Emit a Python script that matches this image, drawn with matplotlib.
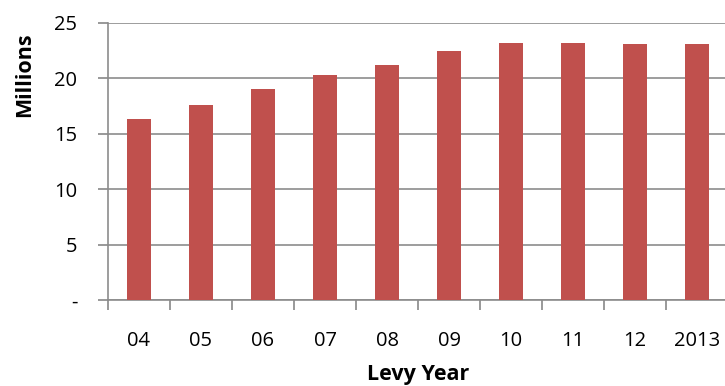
import matplotlib.pyplot as plt
from matplotlib.ticker import FixedLocator

plt.rcParams['font.family'] = ['Open Sans', 'DejaVu Sans']

years = ['04', '05', '06', '07', '08', '09', '10', '11', '12', '2013']
levy = [16.3, 17.6, 19.0, 20.3, 21.2, 22.5, 23.2, 23.2, 23.1, 23.1]
y_ticks = [0, 5, 10, 15, 20, 25]
y_labels = ['-', '5', '10', '15', '20', '25']

fig = plt.figure(figsize=(7.25, 3.86), dpi=100)
ax = fig.add_axes([108 / 725, 1 - 300 / 386, 620 / 725, 277 / 386])

x = list(range(len(years)))
ax.bar(x, levy, width=0.4, color='#C0504D', zorder=3)

ax.set_xlim(-0.5, len(years) - 0.5)
ax.set_ylim(0, 25)
ax.set_yticks(y_ticks)
ax.set_yticklabels(y_labels, fontsize=14.5)
ax.set_xticks(x)
ax.set_xticklabels(years, fontsize=14.5)
ax.tick_params(axis='x', which='major', length=0, pad=22)
ax.xaxis.set_minor_locator(FixedLocator([i - 0.5 for i in range(len(years) + 1)]))
ax.tick_params(axis='x', which='minor', length=7, color='#888888', width=1.2)
ax.tick_params(axis='y', length=7, color='#888888', width=1.2, pad=15)

ax.grid(axis='y', color='#8c8c8c', linewidth=1.2, zorder=0)
for side in ['top', 'right']:
    ax.spines[side].set_visible(False)
for side in ['left', 'bottom']:
    ax.spines[side].set_color('#8c8c8c')
    ax.spines[side].set_linewidth(1.2)

ax.set_xlabel('Levy Year', fontsize=15.5, fontweight='bold')
ax.xaxis.set_label_coords(0.5, (300 - 364) / 277)
ax.set_ylabel('Millions', fontsize=15.5, fontweight='bold')
ax.yaxis.set_label_coords((35 - 108) / 620, (300 - 74.5) / 277)

fig.savefig('out.png', dpi=100)
